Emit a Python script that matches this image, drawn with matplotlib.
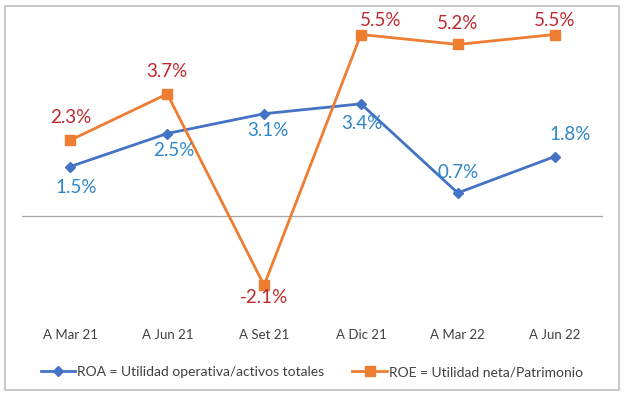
import matplotlib.pyplot as plt
from matplotlib.patches import Rectangle

periodos = ["A Mar 21", "A Jun 21", "A Set 21", "A Dic 21", "A Mar 22", "A Jun 22"]
roa = [1.5, 2.5, 3.1, 3.4, 0.7, 1.8]
roe = [2.3, 3.7, -2.1, 5.5, 5.2, 5.5]

# offsets of the value labels (points)
roa_off = [(4, -15), (5, -12), (3, -12), (1, -14), (0, 15), (11, 16)]
roe_off = [(0, 16), (0, 16), (0, -9), (14, 10), (0, 15), (0, 10)]

plt.rcParams['font.family'] = ['Lato', 'DejaVu Sans']

fig = plt.figure(figsize=(6.24, 3.96), dpi=100)
ax = fig.add_axes([0.0353, 0.2045, 0.931, 0.75])

x = range(len(periodos))
ax.plot(x, roa, color="#4472C4", lw=2, marker="D", ms=5.5,
        label="ROA = Utilidad operativa/activos totales")
ax.plot(x, roe, color="#ED7D31", lw=2, marker="s", ms=6.5,
        label="ROE = Utilidad neta/Patrimonio")

for i, v in enumerate(roa):
    ax.annotate(f"{v:.1f}%", (i, v), xytext=roa_off[i], textcoords="offset points",
                ha="center", va="center", fontsize=13.5, color="#2E86C8")
for i, v in enumerate(roe):
    ax.annotate(f"{v:.1f}%", (i, v), xytext=roe_off[i], textcoords="offset points",
                ha="center", va="center", fontsize=13.5, color="#C0282D")

ax.axhline(0, color="#A6A6A6", lw=0.9, zorder=0)
ax.set_xlim(-0.5, 5.5)
ax.set_ylim(-3, 6)
ax.set_xticks(list(x))
ax.set_xticklabels(periodos, fontsize=9.5, color="#404040")
ax.tick_params(axis="x", length=0, pad=10)
ax.set_yticks([])
for s in ax.spines.values():
    s.set_visible(False)

fig.legend(loc="center", bbox_to_anchor=(0.5, 0.06), ncol=2, frameon=False,
           fontsize=10, handlelength=2.5, columnspacing=2.0, handletextpad=0.15,
           labelcolor="#404040")

fig.patches.append(Rectangle((0.008, 0.015), 0.984, 0.97, transform=fig.transFigure,
                             fill=False, edgecolor="#BFBFBF", lw=1.2))

fig.savefig("out.png", dpi=100)
